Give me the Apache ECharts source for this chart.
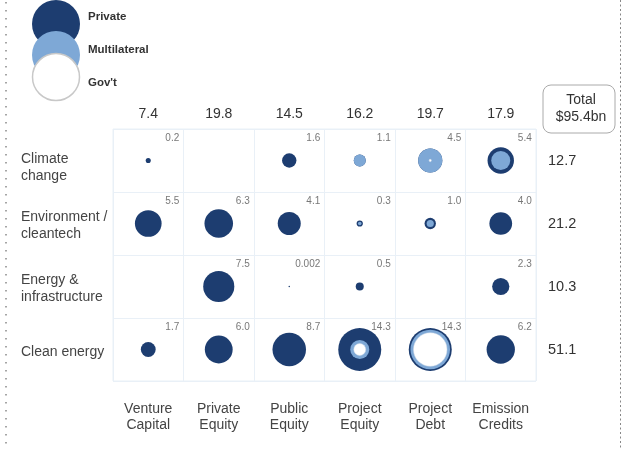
<!DOCTYPE html>
<html>
<head>
<meta charset="utf-8">
<script src="https://cdn.jsdelivr.net/npm/echarts@6/dist/echarts.min.js"></script>
<style>
html,body{margin:0;padding:0;background:#fff;}
#c{width:621px;height:450px;}
</style>
</head>
<body>
<div id="c"></div>
<script>
// ---- data ----
var columns = ['Venture\nCapital', 'Private\nEquity', 'Public\nEquity', 'Project\nEquity', 'Project\nDebt', 'Emission\nCredits'];
var rows = ['Climate\nchange', 'Environment /\ncleantech', 'Energy &\ninfrastructure', 'Clean energy'];
var columnTotals = [7.4, 19.8, 14.5, 16.2, 19.7, 17.9];
var rowTotals = [12.7, 21.2, 10.3, 51.1];
var grandTotal = 95.4;
// total per cell (rows x columns), null = no investment
var cellTotals = [
  [0.2, null, 1.6, 1.1, 4.5, 5.4],
  [5.5, 6.3, 4.1, 0.3, 1.0, 4.0],
  [null, 7.5, 0.002, 0.5, null, 2.3],
  [1.7, 6.0, 8.7, 14.3, 14.3, 6.2]
];
// multilateral share per cell
var multilateral = [
  [0, 0, 0, 1.1, 4.46, 2.8],
  [0, 0, 0, 0.1, 0.4, 0],
  [0, 0, 0, 0, 0, 0],
  [0, 0, 0, 1.7, 3.4, 0]
];
// government share per cell
var government = [
  [0, 0, 0, 0, 0.04, 0],
  [0, 0, 0, 0, 0, 0],
  [0, 0, 0, 0, 0, 0],
  [0, 0, 0, 1.1, 8.7, 0]
];

var DARK = '#1d3d70', LIGHT = '#7ea8d6';
var FONT = '"Liberation Sans", Arial, sans-serif';
var K = 11.37; // px diameter per sqrt($bn)

function build(fn) {
  var out = [];
  for (var r = 0; r < rows.length; r++) {
    for (var c = 0; c < columns.length; c++) {
      var v = fn(r, c);
      if (v != null && v > 0) out.push([c, r, v]);
    }
  }
  return out;
}
var privateLayer = build(function (r, c) { return cellTotals[r][c]; });
var multiLayer = build(function (r, c) { return multilateral[r][c] + government[r][c]; });
var govLayer = build(function (r, c) { return government[r][c]; });
var labelLayer = build(function (r, c) { return cellTotals[r][c]; });

function sz(d) { return Math.max(1.5, K * Math.sqrt(d[2])); }
function fmt(v) { return v < 0.01 ? String(v) : v.toFixed(1); }

var chart = echarts.init(document.getElementById('c'), null, { renderer: 'canvas' });
chart.setOption({
  animation: false,
  backgroundColor: '#fff',
  textStyle: { fontFamily: FONT },
  grid: { left: 113, right: 85, top: 129, bottom: 69, show: true, borderColor: '#e9f0f7', borderWidth: 1, backgroundColor: 'transparent' },
  xAxis: [
    {
      type: 'category', data: columns, position: 'bottom',
      axisLine: { show: false }, axisTick: { show: false },
      axisLabel: { fontSize: 14, lineHeight: 16, margin: 20, color: '#444', fontFamily: FONT, interval: 0 },
      splitLine: { show: true, interval: 0, lineStyle: { color: '#e9f0f7', width: 1 } }
    },
    {
      type: 'category', data: columnTotals.map(function (v) { return v.toFixed(1); }), position: 'top',
      axisLine: { show: false }, axisTick: { show: false },
      axisLabel: { fontSize: 14, margin: 8, color: '#333', fontFamily: FONT, interval: 0 },
      splitLine: { show: false }
    }
  ],
  yAxis: [
    {
      type: 'category', data: rows, inverse: true, position: 'left',
      axisLine: { show: false }, axisTick: { show: false },
      axisLabel: {
        margin: 92, align: 'left', interval: 0,
        formatter: function (v, i) { return (i === 0 ? '{a|' : '{b|') + v + '}'; },
        rich: {
          a: { fontSize: 14, lineHeight: 17, color: '#444', fontFamily: FONT, padding: [15, 0, 0, 0] },
          b: { fontSize: 14, lineHeight: 17, color: '#444', fontFamily: FONT, padding: [5, 0, 0, 0] }
        }
      },
      splitLine: { show: true, interval: 0, lineStyle: { color: '#e9f0f7', width: 1 } }
    },
    {
      type: 'category', data: rowTotals.map(function (v) { return v.toFixed(1); }), inverse: true, position: 'right',
      axisLine: { show: false }, axisTick: { show: false },
      axisLabel: { fontSize: 14.5, margin: 12, align: 'left', color: '#333', fontFamily: FONT, interval: 0 },
      splitLine: { show: false }
    }
  ],
  series: [
    {
      name: 'Private', type: 'scatter', data: privateLayer, symbolSize: sz, silent: true, z: 2,
      itemStyle: { color: DARK, opacity: 1 }
    },
    {
      name: 'Multilateral', type: 'scatter', data: multiLayer, symbolSize: sz, silent: true, z: 3,
      itemStyle: { color: LIGHT, opacity: 1 }
    },
    {
      name: "Gov't", type: 'scatter', data: govLayer, symbolSize: sz, silent: true, z: 4,
      itemStyle: { color: '#ffffff', opacity: 1, borderColor: '#d3dde8', borderWidth: 0.5 }
    },
    {
      name: 'labels', type: 'scatter', data: labelLayer, symbol: 'rect', symbolSize: [70, 63], silent: true, z: 5,
      itemStyle: { color: 'rgba(0,0,0,0)' },
      label: {
        show: true, position: 'insideTopRight', distance: 4, fontSize: 10, color: '#555', fontFamily: FONT,
        formatter: function (p) { return fmt(p.data[2]); }
      }
    }
  ],
  graphic: [
    // dotted page edges
    { type: 'line', shape: { x1: 6, y1: 2, x2: 6, y2: 446 }, style: { stroke: '#888', lineWidth: 1.5, lineDash: [1.5, 6.5] }, silent: true },
    { type: 'line', shape: { x1: 620.5, y1: 0, x2: 620.5, y2: 450 }, style: { stroke: '#888', lineWidth: 1, lineDash: [2, 2.5] }, silent: true },
    // legend
    { type: 'circle', shape: { cx: 56, cy: 24, r: 24 }, style: { fill: DARK }, silent: true },
    { type: 'circle', shape: { cx: 56, cy: 55, r: 24 }, style: { fill: LIGHT }, silent: true },
    { type: 'circle', shape: { cx: 56, cy: 77, r: 23.5 }, style: { fill: '#fff', stroke: '#c8c8c8', lineWidth: 1.5 }, silent: true },
    { type: 'text', x: 88, y: 17, style: { text: 'Private', font: 'bold 11.5px ' + FONT, fill: '#333', textVerticalAlign: 'middle', verticalAlign: 'middle' }, silent: true },
    { type: 'text', x: 88, y: 50, style: { text: 'Multilateral', font: 'bold 11.5px ' + FONT, fill: '#333', textVerticalAlign: 'middle', verticalAlign: 'middle' }, silent: true },
    { type: 'text', x: 88, y: 83, style: { text: "Gov't", font: 'bold 11.5px ' + FONT, fill: '#333', textVerticalAlign: 'middle', verticalAlign: 'middle' }, silent: true },
    // total box
    { type: 'rect', shape: { x: 543, y: 85, width: 72, height: 48, r: 8 }, style: { fill: '#fff', stroke: '#aaa', lineWidth: 1 }, silent: true },
    { type: 'text', x: 581, y: 109, style: { text: 'Total\n$' + grandTotal.toFixed(1) + 'bn', font: '14px ' + FONT, lineHeight: 17, fill: '#333', align: 'center', verticalAlign: 'middle', textAlign: 'center', textVerticalAlign: 'middle' }, silent: true }
  ]
});
</script>
</body>
</html>
